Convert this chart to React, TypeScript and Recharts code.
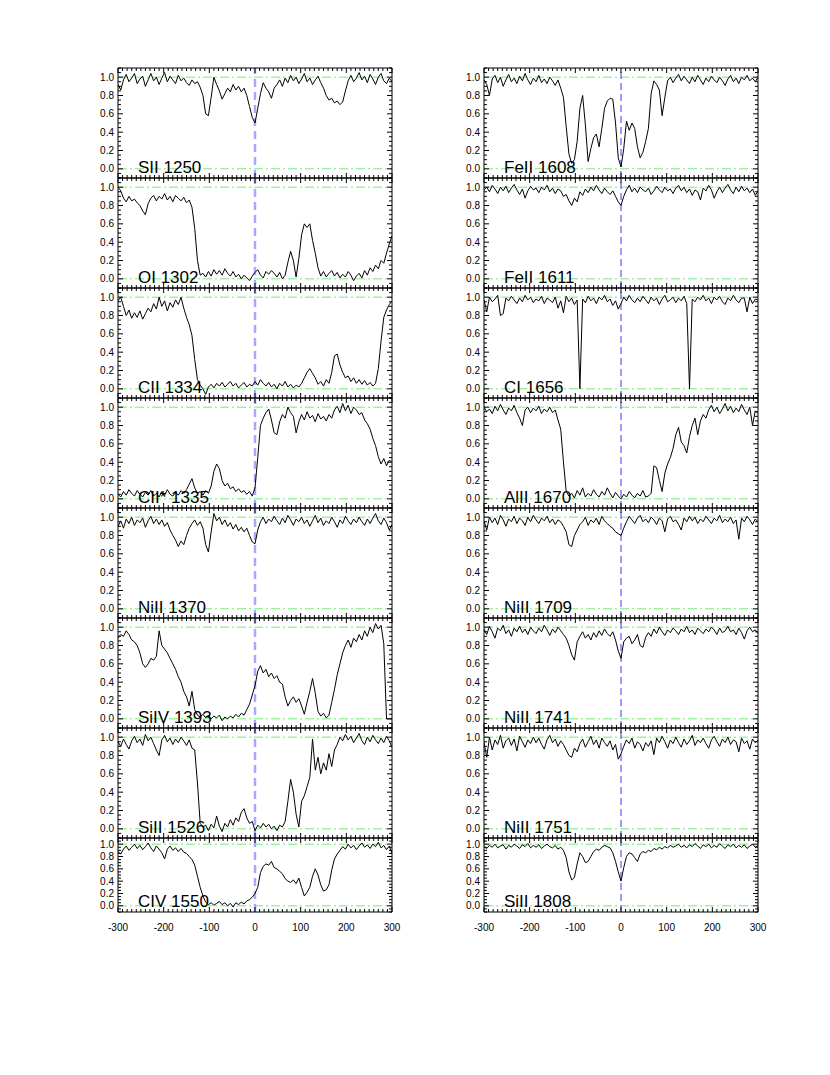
import React from 'react';
import { LineChart, Line, XAxis, YAxis, ReferenceLine } from 'recharts';

// velocity grid, km/s
const velocity = [
  -300, -294, -288, -282, -276, -270, -264, -258, -252, -246,
  -240, -234, -228, -222, -216, -210, -204, -198, -192, -186,
  -180, -174, -168, -162, -156, -150, -144, -138, -132, -126,
  -120, -114, -108, -102, -96, -90, -84, -78, -72, -66,
  -60, -54, -48, -42, -36, -30, -24, -18, -12, -6,
  0, 6, 12, 18, 24, 30, 36, 42, 48, 54,
  60, 66, 72, 78, 84, 90, 96, 102, 108, 114,
  120, 126, 132, 138, 144, 150, 156, 162, 168, 174,
  180, 186, 192, 198, 204, 210, 216, 222, 228, 234,
  240, 246, 252, 258, 264, 270, 276, 282, 288, 294,
  300,
];

const yTicks = [
  -0.1, -0.05, 0, 0.05, 0.1, 0.15, 0.2, 0.25, 0.3, 0.35, 0.4, 0.45, 0.5,
  0.55, 0.6, 0.65, 0.7, 0.75, 0.8, 0.85, 0.9, 0.95, 1, 1.05, 1.1,
];
const yTickLabels = [0, 0.2, 0.4, 0.6, 0.8, 1];
const xTickLabels = [-300, -200, -100, 0, 100, 200, 300];
const xMinorTicks = Array.from({ length: 61 }, (_, i) => -300 + i * 10);

const leftLabels = ['SII 1250', 'OI 1302', 'CII 1334', 'CII* 1335', 'NiII 1370', 'SiIV 1393', 'SiII 1526', 'CIV 1550'];
const rightLabels = ['FeII 1608', 'FeII 1611', 'CI 1656', 'AlII 1670', 'NiII 1709', 'NiII 1741', 'NiII 1751', 'SiII 1808'];

// normalised flux in percent, one value per velocity bin
const sii1250 = [
  92, 86, 97, 103, 95, 99, 104, 93, 98, 101,
  90, 97, 104, 96, 100, 92, 99, 105, 95, 101,
  97, 93, 102, 96, 99, 94, 91, 97, 93, 95,
  89, 80, 60, 58, 78, 100, 92, 85, 76, 82,
  88, 84, 92, 86, 90, 84, 88, 80, 68, 56,
  50, 66, 82, 94, 88, 84, 77, 88, 92, 97,
  90, 99, 94, 102, 96, 100, 93, 98, 104, 95,
  99, 92, 97, 101, 94, 88, 80, 75, 77, 72,
  74, 70, 73, 85, 96, 102, 95, 99, 105, 97,
  101, 94, 103, 98, 92, 100, 104, 96, 93, 99,
  95,
];
const oi1302 = [
  100, 96, 88, 84, 90, 85, 87, 83, 80, 74,
  70, 82, 88, 91, 85, 90, 87, 93, 86, 90,
  84, 91, 88, 85, 89, 83, 86, 78, 55, 20,
  4, 6, 2, 8, 3, 10, 5, 9, 4, 11,
  6, 3, 8, 2, 5, 0, 4, 1, -2, 3,
  7, 10, 4, 1, 8, 5, 9, 6, 2, 7,
  0, 4, 18, 30, 20, 2, 22, 48, 60, 56,
  60, 42, 28, 12, 3, 8, 2, 6, 9, 3,
  7, 1, 5, 2, 8, 4, -2, 3, 6, 1,
  9, 4, 12, 8, 15, 11, 20, 17, 28, 38,
  47,
];
const cii1334 = [
  96, 100, 90, 80, 86, 77, 83, 78, 85, 76,
  82, 88, 84, 93, 87, 100, 90, 96, 85, 94,
  89, 97, 92, 100, 88, 78, 70, 58, 32, 10,
  4, 0, -6, 2, 5, 1, 6, 3, 7, 2,
  5, 8, 3, 6, 1, 4, 7, 2, 5, 3,
  8, 4, 10, 6, 3, 7, 2, 5, 0, 6,
  3, 8, 2, 5, 1, 4, 2, 6, 12, 18,
  22, 17, 12, 5, 8, 3, 10, 6, 18, 36,
  38, 26, 18, 12, 14, 8, 12, 6, 10, 5,
  9, 4, 7, 3, 6, 22, 52, 78, 86, 92,
  96,
];
const ciiStar1335 = [
  5, 2, 8, 4, 10, 6, 3, 9, 5, 2,
  7, 4, 9, 3, 6, 2, 8, 4, 10, 5,
  3, 7, 4, 9, 6, 10, 16, 22, 12, 6,
  8, 4, 9, 6, 14, 30, 38, 33, 20, 14,
  17, 11, 13, 8, 11, 7, 9, 5, 8, 3,
  12, 45, 80, 88, 94, 98, 86, 72, 70, 84,
  92, 88, 100, 94, 90, 72, 84, 92, 86, 95,
  88, 91, 84, 93, 87, 90, 85, 92, 88, 97,
  101, 94, 104, 96, 102, 93, 100, 97, 92, 94,
  86, 82, 76, 66, 58, 46, 38, 44, 36, 42,
  40,
];
const nii1370 = [
  90, 96, 88, 98, 93, 100, 91, 97, 94, 99,
  89, 96, 101, 93, 98, 92, 97, 90, 94, 86,
  80, 75, 68, 74, 70, 80, 88, 93, 97, 91,
  95, 88, 70, 62, 84, 104, 96, 100, 92, 97,
  90, 94, 87, 92, 85, 89, 84, 88, 80, 73,
  71, 86, 95, 100, 93, 98, 95, 101, 96, 92,
  99, 94, 102, 97, 91, 98, 95, 100, 93, 97,
  90, 96, 102, 94, 99, 91, 96, 93, 100, 95,
  89, 97, 93, 101, 96, 92, 98, 94, 100, 95,
  91, 98, 93, 99, 104, 96, 92, 99, 94, 86,
  92,
];
const siiv1393 = [
  88, 92, 90, 96, 92, 86, 84, 80, 72, 60,
  56, 60, 66, 64, 68, 96, 80, 76, 72, 66,
  60, 54, 46, 40, 30, 24, 14, 30, 10, 4,
  2, 5, 1, 4, 0, 3, 1, 4, -2, 2,
  0, 3, 1, 5, 2, 6, 4, 10, 16, 26,
  36, 52, 58, 50, 54, 46, 50, 44, 47, 40,
  38, 24, 14, 20, 24, 18, 22, 14, 5, 18,
  30, 44, 28, 8, 3, 6, 1, 4, 18, 32,
  48, 60, 72, 80, 86, 78, 88, 84, 92, 86,
  96, 90, 100, 94, 104, 98, 102, 82, 0, 0,
  0,
];
const siii1526 = [
  95, 90, 98, 92, 87, 96, 101, 94, 98, 91,
  103, 96, 100, 93, 86, 80, 97, 102, 95, 99,
  92, 98, 94, 100, 96, 91, 97, 88, 86, 50,
  6, 2, 4, -2, 5, 1, 14, 3, -3, 6,
  2, 10, 4, 12, 8, 18, 22, 12, 6, 8,
  -2, 4, 1, 6, 2, 5, 0, 3, -2, 4,
  2, 8, 30, 54, 40, 16, 2, 30, 36, 46,
  56, 98, 64, 78, 60, 72, 64, 82, 68, 86,
  92, 100, 96, 103, 97, 101, 94, 99, 104, 96,
  92, 100, 95, 102, 97, 93, 99, 94, 101, 96,
  89,
];
const civ1550 = [
  88, 84, 92, 97, 90, 95, 100, 93, 98, 91,
  96, 102, 94, 88, 97, 92, 86, 76, 92, 97,
  90, 94, 88, 93, 87, 85, 80, 75, 66, 48,
  30, 16, 6, 2, 5, 1, 4, 7, 2, 5,
  0, 4, -2, 5, 2, 6, 3, 8, 10, 14,
  20, 30, 54, 64, 68, 66, 72, 62, 60, 56,
  52, 44, 40, 38, 42, 36, 45, 30, 16, 22,
  30, 48, 60, 50, 34, 24, 26, 34, 58, 76,
  84, 90, 96, 92, 100, 94, 98, 91, 97, 102,
  95, 99, 93, 100, 96, 103, 94, 98, 91, 97,
  85,
];
const feii1608 = [
  97, 92, 80, 98, 102, 94, 100, 90, 97, 103,
  95, 99, 93, 101, 96, 104, 97, 92, 99, 95,
  102, 94, 98, 93, 100, 96, 91, 97, 88, 78,
  46, 16, 6, 10, 30, 66, 80, 48, 8, 22,
  34, 38, 24, 44, 66, 74, 77, 76, 50, 12,
  2, 22, 52, 42, 50, 44, 24, 12, 18, 30,
  44, 82, 96, 92, 86, 58, 78, 96, 100, 94,
  99, 103, 96, 101, 97, 93, 100, 95, 102, 97,
  92, 99, 95, 101, 97, 94, 100, 96, 91, 98,
  102, 95, 99, 93, 100, 97, 102, 96, 99, 95,
  100,
];
const feii1611 = [
  97, 100, 95, 102, 98, 93, 100, 96, 101, 94,
  99, 103, 97, 92, 98, 88, 96, 101, 97, 99,
  94, 100, 97, 102, 95, 99, 93, 98, 96, 90,
  92, 85, 80, 88, 84, 95, 91, 98, 94, 100,
  96, 102, 97, 93, 99, 95, 92, 96, 90, 84,
  80, 90, 97, 102, 95, 99, 94, 100, 97, 95,
  99, 92, 96, 101, 97, 94, 100, 96, 98, 93,
  99, 102, 96, 100, 94, 98, 91, 97, 95, 86,
  99, 96, 102, 97, 88, 95, 100, 94, 99, 103,
  97, 93, 100, 95, 101, 96, 99, 94, 98, 91,
  96,
];
const ci1656 = [
  97, 84, 100, 95, 98, 102, 80, 82, 99, 96,
  101, 97, 93, 99, 95, 102, 97, 100, 94, 98,
  96, 101, 93, 99, 97, 94, 100, 88, 96, 83,
  101, 95, 99, 92, 97, 0, 98, 94, 101, 96,
  99, 93, 100, 97, 102, 95, 98, 91, 96, 87,
  93, 100, 96, 102, 97, 94, 99, 95, 101, 97,
  93, 100, 96, 99, 92, 98, 102, 95, 97, 100,
  94, 99, 96, 101, 93, 0, 98, 95, 100, 97,
  102, 96, 99, 93, 100, 97, 101, 95, 92, 99,
  96, 102, 97, 94, 99, 99, 84, 100, 93, 98,
  97,
];
const alii1670 = [
  100, 95, 98, 93, 101, 96, 103, 97, 92, 99,
  96, 102, 94, 88, 80, 97, 100, 94, 99, 96,
  101, 93, 98, 95, 100, 94, 97, 86, 76, 40,
  8, 3, 6, 1, 9, 4, 12, 2, 6, 3,
  10, 5, 2, 8, 4, 12, 6, 1, 7, 3,
  0, 5, 2, 8, 4, 1, 6, 3, 9, 2,
  3, 6, 36, 34, 20, 8, 28, 38, 45, 55,
  70, 78, 62, 58, 50, 68, 80, 88, 70, 85,
  92, 88, 97, 102, 95, 100, 93, 98, 104, 96,
  101, 94, 99, 95, 103, 97, 92, 100, 80, 96,
  93,
];
const nii1709 = [
  96, 86, 100, 94, 99, 92, 102, 97, 90, 98,
  95, 101, 93, 99, 96, 91, 100, 95, 102, 97,
  93, 99, 96, 101, 94, 98, 92, 97, 95, 90,
  84, 70, 68, 80, 86, 92, 95, 100, 91, 97,
  94, 99, 92, 101, 96, 93, 90, 88, 84, 82,
  80, 88, 95, 101, 97, 93, 99, 102, 95, 98,
  94, 100, 97, 92, 99, 96, 84, 98, 101, 95,
  97, 92, 86, 99, 95, 101, 96, 100, 93, 98,
  95, 101, 97, 93, 99, 96, 102, 94, 98, 95,
  100, 93, 97, 76, 99, 95, 101, 97, 92, 98,
  95,
];
const nii1741 = [
  98, 92, 101, 95, 88, 99, 96, 102, 93, 97,
  90, 99, 95, 101, 94, 98, 92, 100, 96, 93,
  99, 95, 102, 97, 91, 98, 94, 100, 96, 92,
  88, 80, 70, 64, 84, 90, 95, 88, 92, 86,
  94, 89, 96, 91, 98, 93, 90, 95, 86, 74,
  66, 84, 88, 90, 82, 86, 92, 80, 78, 89,
  94, 90, 98, 93, 100, 95, 91, 97, 94, 99,
  96, 92, 98, 95, 101, 94, 97, 92, 99, 96,
  93, 98, 95, 100, 97, 92, 99, 94, 96, 101,
  95, 97, 92, 99, 94, 87, 96, 100, 95, 97,
  93,
];
const nii1751 = [
  94, 78, 100, 86, 97, 92, 102, 88, 96, 99,
  91, 98, 85, 101, 95, 89, 97, 93, 100, 94,
  99, 92, 87, 97, 102, 94, 98, 90, 96, 92,
  86, 80, 78, 88, 84, 93, 98, 89, 95, 101,
  92, 97, 88, 99, 94, 90, 96, 86, 92, 76,
  82, 90, 97, 93, 99, 88, 95, 92, 85, 94,
  90, 96, 81, 99, 94, 101, 95, 88, 97, 93,
  100, 94, 89, 98, 92, 96, 102, 91, 97, 94,
  99, 93, 88, 97, 101, 95, 90, 98, 94, 100,
  92, 97, 95, 84, 99, 93, 96, 87, 98, 94,
  97,
];
const siii1808 = [
  96, 93, 98, 95, 100, 94, 97, 99, 92, 98,
  95, 100, 97, 93, 99, 96, 101, 94, 98, 95,
  99, 93, 97, 100, 96, 94, 98, 92, 95, 90,
  78, 55, 42, 46, 68, 86, 80, 70, 72, 80,
  88, 92, 90, 95, 98, 96, 94, 86, 72, 55,
  40, 62, 80, 86, 84, 78, 72, 84, 88, 86,
  90, 88, 93, 91, 95, 92, 96, 94, 98, 95,
  97, 100, 95, 98, 94, 99, 96, 101, 97, 93,
  99, 96, 100, 94, 98, 95, 101, 97, 93, 99,
  96, 100, 94, 98, 95, 99, 93, 97, 100, 95,
  98,
];

const leftFlux = [sii1250, oi1302, cii1334, ciiStar1335, nii1370, siiv1393, siii1526, civ1550];
const rightFlux = [feii1608, feii1611, ci1656, alii1670, nii1709, nii1741, nii1751, siii1808];

// layout
const panelTops = [68, 178, 288, 398, 508, 618, 728, 838];
const panelHeights = [110, 110, 110, 110, 110, 110, 110, 74];
const PLOT_W = 274;
const Y_AXIS_W = 34;
const RIGHT_PAD = 16;
const EDGE = 1; // thin top/right/bottom axes so they still get drawn
const FONT = '"Liberation Sans", Arial, Helvetica, sans-serif';
const GREEN = '#70ee70';

const renderYTick = (side: 'left' | 'right') => (props: any) => {
  const { x, y, payload } = props;
  const major = yTickLabels.includes(payload.value);
  const len = major ? 5 : 3;
  const dir = side === 'left' ? 1 : -1;
  return (
    <g>
      <line x1={x} y1={y} x2={x + dir * len} y2={y} stroke="#000" strokeWidth={1} />
      {side === 'left' && major && (
        <text x={x - 4} y={y} textAnchor="end" dominantBaseline="central" fontSize={10} fontFamily={FONT} fill="#000">
          {payload.value.toFixed(1)}
        </text>
      )}
    </g>
  );
};

const renderXTick = (side: 'top' | 'bottom', withLabels: boolean) => (props: any) => {
  const { x, y, payload } = props;
  const major = xTickLabels.includes(payload.value);
  const len = major ? 5 : 3;
  const dir = side === 'top' ? 1 : -1;
  return (
    <g>
      <line x1={x} y1={y} x2={x} y2={y + dir * len} stroke="#000" strokeWidth={1} />
      {withLabels && major && (
        <text x={x} y={y + 15} textAnchor="middle" dominantBaseline="central" fontSize={10} fontFamily={FONT} fill="#000">
          {String(payload.value)}
        </text>
      )}
    </g>
  );
};

interface PanelProps {
  label: string;
  flux: number[];
  plotX: number;
  top: number;
  height: number;
  isBottom: boolean;
  zeroColor: string;
  zeroWidth: number;
  zeroDash: string;
}

function SpectrumPanel({ label, flux, plotX, top, height, isBottom, zeroColor, zeroWidth, zeroDash }: PanelProps) {
  const data = velocity.map((v, i) => ({ v, f: flux[i] / 100 }));
  const axisH = isBottom ? 26 : EDGE;
  return (
    <>
      <div style={{ position: 'absolute', left: plotX - Y_AXIS_W, top: top - EDGE }}>
        <LineChart
          width={Y_AXIS_W + PLOT_W + EDGE + RIGHT_PAD}
          height={EDGE + height + axisH}
          data={data}
          margin={{ top: 0, right: RIGHT_PAD, bottom: 0, left: 0 }}
        >
          <XAxis
            xAxisId="bottom"
            dataKey="v"
            type="number"
            domain={[-300, 300]}
            allowDataOverflow
            ticks={xMinorTicks}
            interval={0}
            tickSize={0}
            tickMargin={0}
            height={axisH}
            axisLine={{ stroke: '#000' }}
            tickLine={false}
            tick={renderXTick('bottom', isBottom)}
          />
          <XAxis
            xAxisId="top"
            orientation="top"
            dataKey="v"
            type="number"
            domain={[-300, 300]}
            allowDataOverflow
            ticks={xMinorTicks}
            interval={0}
            tickSize={0}
            tickMargin={0}
            height={EDGE}
            axisLine={{ stroke: '#000' }}
            tickLine={false}
            tick={renderXTick('top', false)}
          />
          <YAxis
            yAxisId="left"
            type="number"
            domain={[-0.1, 1.1]}
            allowDataOverflow
            ticks={yTicks}
            interval={0}
            tickSize={0}
            tickMargin={0}
            width={Y_AXIS_W}
            axisLine={{ stroke: '#000' }}
            tickLine={false}
            tick={renderYTick('left')}
          />
          <YAxis
            yAxisId="right"
            orientation="right"
            type="number"
            domain={[-0.1, 1.1]}
            allowDataOverflow
            ticks={yTicks}
            interval={0}
            tickSize={0}
            tickMargin={0}
            width={EDGE}
            axisLine={{ stroke: '#000' }}
            tickLine={false}
            tick={renderYTick('right')}
          />
          <ReferenceLine xAxisId="bottom" yAxisId="left" y={0} stroke={GREEN} strokeDasharray="9 3 2 3" />
          <ReferenceLine xAxisId="bottom" yAxisId="left" y={1} stroke={GREEN} strokeDasharray="9 3 2 3" />
          <ReferenceLine xAxisId="bottom" yAxisId="left" x={0} stroke={zeroColor} strokeWidth={zeroWidth} strokeDasharray={zeroDash} />
          <Line
            xAxisId="bottom"
            yAxisId="left"
            type="linear"
            dataKey="f"
            stroke="#000"
            strokeWidth={1}
            dot={false}
            isAnimationActive={false}
          />
        </LineChart>
      </div>
      <div
        style={{
          position: 'absolute',
          left: plotX + 20,
          top: top + height - 19,
          fontFamily: FONT,
          fontSize: 17,
          lineHeight: '17px',
          whiteSpace: 'nowrap',
          color: '#000',
        }}
      >
        {label}
      </div>
    </>
  );
}

export default function App() {
  return (
    <div style={{ position: 'absolute', left: 0, top: 0, width: 830, height: 1075, background: '#fff' }}>
      {leftLabels.map((label, i) => (
        <SpectrumPanel
          key={label}
          label={label}
          flux={leftFlux[i]}
          plotX={118}
          top={panelTops[i]}
          height={panelHeights[i]}
          isBottom={i === leftLabels.length - 1}
          zeroColor="#a8a8ff"
          zeroWidth={2.5}
          zeroDash="8 5"
        />
      ))}
      {rightLabels.map((label, i) => (
        <SpectrumPanel
          key={label + i}
          label={label}
          flux={rightFlux[i]}
          plotX={484}
          top={panelTops[i]}
          height={panelHeights[i]}
          isBottom={i === rightLabels.length - 1}
          zeroColor="#3a3af0"
          zeroWidth={1}
          zeroDash="7 4"
        />
      ))}
    </div>
  );
}
